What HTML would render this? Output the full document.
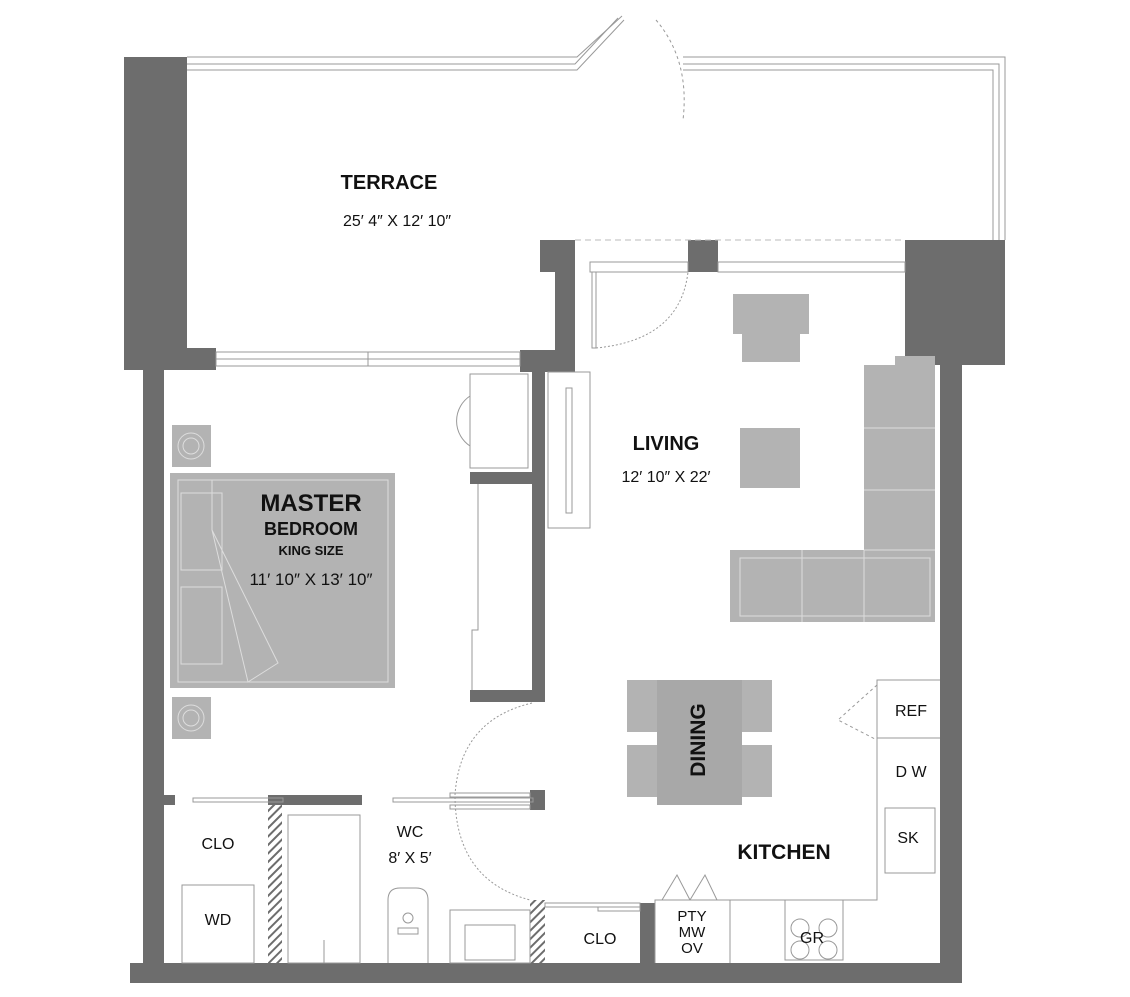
<!DOCTYPE html>
<html><head><meta charset="utf-8"><style>
html,body{margin:0;padding:0;background:#fff;}
svg{display:block;}
text{font-family:"Liberation Sans",sans-serif;fill:#111;text-anchor:middle;}
.b{font-weight:bold;}
</style></head><body>
<svg width="1130" height="997" viewBox="0 0 1130 997" xmlns="http://www.w3.org/2000/svg">
<defs>
<pattern id="h" width="6" height="6" patternUnits="userSpaceOnUse" patternTransform="rotate(45)">
<rect width="6" height="6" fill="#fff"/><rect width="2" height="6" fill="#6d6d6d"/></pattern>
</defs>
<g fill="#6d6d6d">
<!-- terrace left wall -->
<rect x="124" y="57" width="63" height="313"/>
<rect x="186" y="348" width="30" height="22"/>
<!-- bedroom left wall -->
<rect x="143" y="368" width="21" height="615"/>
<!-- bottom wall -->
<rect x="130" y="963" width="832" height="20"/>
<!-- right wall -->
<rect x="940" y="365" width="22" height="618"/>
<rect x="905" y="240" width="100" height="125"/>
<!-- living top -->
<rect x="540" y="240" width="35" height="32"/>
<rect x="688" y="240" width="30" height="32"/>
<rect x="555" y="272" width="20" height="100"/>
<rect x="520" y="350" width="55" height="22"/>
<!-- bedroom/living wall -->
<rect x="532" y="372" width="13" height="330"/>
<rect x="470" y="472" width="62" height="12"/>
<rect x="470" y="690" width="62" height="12"/>
<!-- wc walls -->
<rect x="143" y="795" width="32" height="10"/>
<rect x="268" y="795" width="94" height="10"/>
<rect x="530" y="790" width="15" height="20"/>
<rect x="640" y="903" width="15" height="60"/>
</g>
<rect x="268" y="805" width="14" height="158" fill="url(#h)"/>
<rect x="530" y="900" width="15" height="63" fill="url(#h)"/>
<!-- terrace railings -->
<g fill="none" stroke="#999" stroke-width="1">
<path d="M187 57H577L622 16"/><path d="M187 64H575L618 18"/><path d="M187 70H577L624 20"/>
<path d="M683 57H1005V240"/><path d="M683 64H999V240"/><path d="M683 70H993V240"/>
<path d="M656 20Q690 60 683 120" stroke-dasharray="3 3"/>
<path d="M575 240H905" stroke-dasharray="6 4" stroke="#bbb"/>
<rect x="216" y="352" width="304" height="14"/><line x1="368" y1="352" x2="368" y2="366"/>
<line x1="216" y1="359" x2="520" y2="359"/>
<rect x="590" y="262" width="98" height="10"/><rect x="718" y="262" width="187" height="10"/>
<rect x="592" y="272" width="4" height="76"/>
<path d="M596 348Q680 340 688 272" stroke-dasharray="2 2"/>
<!-- bedroom closet & desk -->
<rect x="470" y="374" width="58" height="94"/>
<path d="M470 396A30 30 0 0 0 470 446"/>
<path d="M478 484V630H472V690"/>
<!-- tv console -->
<rect x="548" y="372" width="42" height="156"/><rect x="566" y="388" width="6" height="125"/>
<!-- bedroom door -->
<path d="M532 703Q460 720 455 795Q455 880 530 900" stroke-dasharray="2 2"/>
<rect x="193" y="798" width="90" height="4"/><rect x="393" y="798" width="140" height="4"/>
<rect x="450" y="793" width="80" height="4"/><rect x="450" y="805" width="80" height="4"/>
<!-- closets wc -->
<rect x="182" y="885" width="72" height="78"/>
<rect x="288" y="815" width="72" height="148"/><line x1="324" y1="940" x2="324" y2="963"/>
<path d="M388 963V900Q388 888 400 888H416Q428 888 428 900V963"/>
<circle cx="408" cy="918" r="5"/><rect x="398" y="928" width="20" height="6"/>
<rect x="450" y="910" width="80" height="53"/><rect x="465" y="925" width="50" height="35"/>
<rect x="545" y="903" width="95" height="4"/><rect x="598" y="907" width="42" height="4"/>
<!-- kitchen -->
<path d="M655 963V900H877V680H940"/>
<line x1="730" y1="900" x2="730" y2="963"/>
<path d="M662 900L677 875L690 900M690 900L705 875L717 900"/>
<line x1="877" y1="738" x2="940" y2="738"/>
<rect x="885" y="808" width="50" height="65"/>
<path d="M877 685L838 720L877 740" stroke-dasharray="3 3"/>
<rect x="785" y="900" width="58" height="60"/>
<circle cx="800" cy="928" r="9"/><circle cx="828" cy="928" r="9"/><circle cx="800" cy="950" r="9"/><circle cx="828" cy="950" r="9"/>
</g>
<!-- bed & nightstands -->
<g fill="#b3b3b3">
<rect x="170" y="473" width="225" height="215"/>
<rect x="172" y="425" width="39" height="42"/><rect x="172" y="697" width="39" height="42"/>
<!-- living furniture -->
<rect x="733" y="294" width="76" height="40"/><rect x="742" y="304" width="58" height="58"/>
<rect x="740" y="428" width="60" height="60"/>
<rect x="895" y="356" width="40" height="30"/>
<rect x="864" y="365" width="71" height="257"/>
<rect x="730" y="550" width="205" height="72"/>
<!-- dining -->
<rect x="627" y="680" width="145" height="52"/><rect x="627" y="745" width="145" height="52"/>
<rect x="657" y="680" width="85" height="125" fill="#a8a8a8"/>
</g>
<g fill="none" stroke="#ddd" stroke-width="1">
<rect x="178" y="480" width="210" height="202"/><rect x="181" y="493" width="41" height="77"/><rect x="181" y="587" width="41" height="77"/>
<path d="M212 480V530L248 682L278 663L212 530"/>
<circle cx="191" cy="446" r="13"/><circle cx="191" cy="446" r="8"/>
<circle cx="191" cy="718" r="13"/><circle cx="191" cy="718" r="8"/>
<line x1="864" y1="428" x2="935" y2="428"/><line x1="864" y1="490" x2="935" y2="490"/><line x1="864" y1="550" x2="935" y2="550"/>
<line x1="802" y1="550" x2="802" y2="622"/><line x1="864" y1="550" x2="864" y2="622"/>
<rect x="740" y="558" width="190" height="58"/>
</g>
<g class="b">
<text x="389" y="189" font-size="20" class="b" style="font-weight:bold">TERRACE</text>
<text x="666" y="450" font-size="20" style="font-weight:bold">LIVING</text>
<text x="311" y="511" font-size="24" style="font-weight:bold">MASTER</text>
<text x="311" y="535" font-size="18" style="font-weight:bold">BEDROOM</text>
<text x="311" y="555" font-size="13" style="font-weight:bold">KING SIZE</text>
<text x="784" y="859" font-size="21" style="font-weight:bold">KITCHEN</text>
<text transform="translate(705 740) rotate(-90)" font-size="21" style="font-weight:bold">DINING</text>
</g>
<g font-size="16">
<text x="397" y="226">25′ 4″ X 12′ 10″</text>
<text x="666" y="482">12′ 10″ X 22′</text>
<text x="311" y="585" font-size="17">11′ 10″ X 13′ 10″</text>
<text x="410" y="837">WC</text><text x="410" y="863">8′ X 5′</text>
<text x="218" y="849">CLO</text><text x="218" y="925">WD</text>
<text x="600" y="944">CLO</text>
<text x="692" y="921" font-size="15">PTY</text><text x="692" y="937" font-size="15">MW</text><text x="692" y="953" font-size="15">OV</text>
<text x="812" y="943">GR</text>
<text x="911" y="716">REF</text><text x="911" y="777">D W</text><text x="908" y="843">SK</text>
</g>
</svg>
</body></html>
